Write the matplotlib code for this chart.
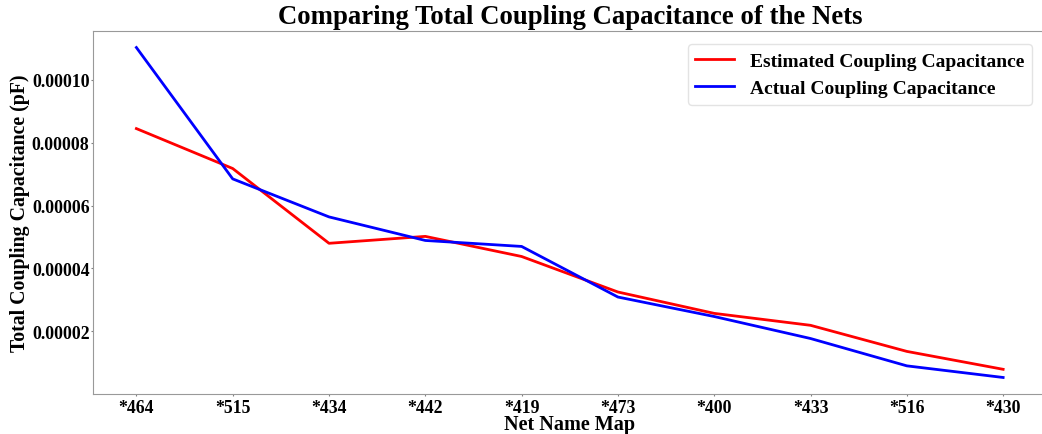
import matplotlib
matplotlib.use("Agg")
import matplotlib.pyplot as plt

nets = ["*464", "*515", "*434", "*442", "*419", "*473", "*400", "*433", "*516", "*430"]
estimated = [8.45e-5, 7.18e-5, 4.80e-5, 5.02e-5, 4.38e-5, 3.25e-5, 2.57e-5, 2.19e-5, 1.36e-5, 0.79e-5]
actual = [11.03e-5, 6.85e-5, 5.64e-5, 4.89e-5, 4.70e-5, 3.09e-5, 2.47e-5, 1.77e-5, 0.90e-5, 0.53e-5]

plt.rcParams['font.family'] = 'Liberation Serif'
plt.rcParams['font.weight'] = 'bold'

fig = plt.figure(figsize=(10.42, 4.35), dpi=100)
ax = fig.add_axes([0.0893, 0.092, 0.915, 0.8344])

x = list(range(len(nets)))
ax.plot(x, estimated, color='red', linewidth=2, label="Estimated Coupling Capacitance")
ax.plot(x, actual, color='blue', linewidth=2, label="Actual Coupling Capacitance")

ax.set_xticks(x)
ax.set_xticklabels(nets)
ax.set_yticks([2e-5, 4e-5, 6e-5, 8e-5, 10e-5])
ax.set_yticklabels(["0.00002", "0.00004", "0.00006", "0.00008", "0.00010"])
ax.tick_params(labelsize=12.8, length=1.5, color='gray')
ax.tick_params(axis='x', pad=2)
ax.tick_params(axis='y', pad=1)

for s in ax.spines.values():
    s.set_color('#999999')
ax.spines['right'].set_visible(False)

ax.set_title("Comparing Total Coupling Capacitance of the Nets", fontsize=19.3, fontweight='bold', pad=6)
ax.set_xlabel("Net Name Map", fontsize=14.5, fontweight='bold', labelpad=-1)
ax.set_ylabel("Total Coupling Capacitance (pF)", fontsize=14.3, fontweight='bold', labelpad=1)

leg = ax.legend(loc='upper right', fontsize=14, bbox_to_anchor=(0.995, 0.99))
leg.get_frame().set_edgecolor('#dddddd')

fig.savefig("out.png", dpi=100)
